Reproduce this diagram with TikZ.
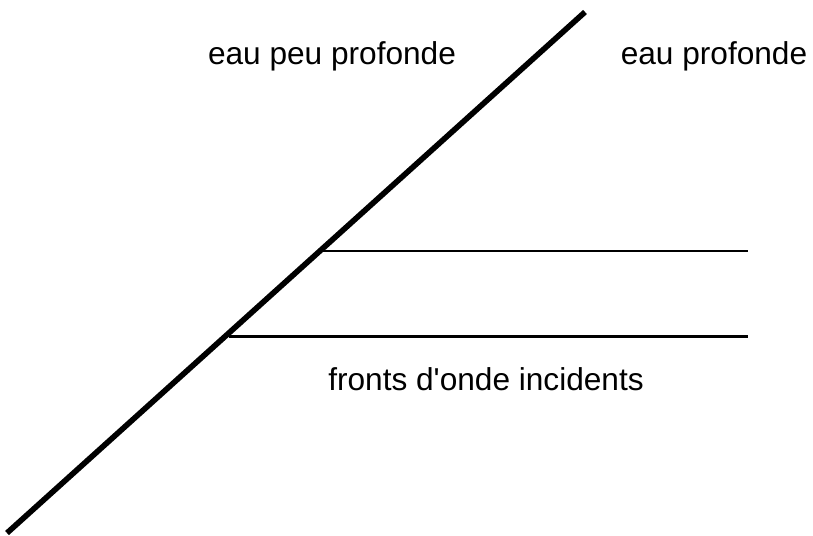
\documentclass[tikz,border=0pt]{standalone}
\usepackage{fontspec}
\setmainfont{Liberation Sans}
\usetikzlibrary{positioning,calc}

\begin{document}
\begin{tikzpicture}[x=0.02cm,y=-0.02cm,
    label text/.style={font=\fontsize{18}{21}\selectfont,inner sep=0pt},
    front/.style={line width=1.2pt}]
    \useasboundingbox (0,0) rectangle (813,535);

    % interface between the two depths
    \coordinate (shoreA) at (7,533);
    \coordinate (shoreB) at (585,12);
    \draw [line width=3.2pt] (shoreA) -- (shoreB);

    % incident wave fronts
    \coordinate (front1start) at (323,251);
    \coordinate (front1end) at (748,251);
    \coordinate (front2start) at (229,336.5);
    \coordinate (front2end) at (748,336.5);
    \draw [front] (front1start) -- (front1end);
    \draw [front] (front2start) -- (front2end);

    \node [label text] (shallow) at (332,56) {eau peu profonde};
    \node [label text] (deep) at (714,56) {eau profonde};
    \node [label text] (fronts) at (486,379) {fronts d\textquotesingle onde incidents};
  \end{tikzpicture}
\end{document}
